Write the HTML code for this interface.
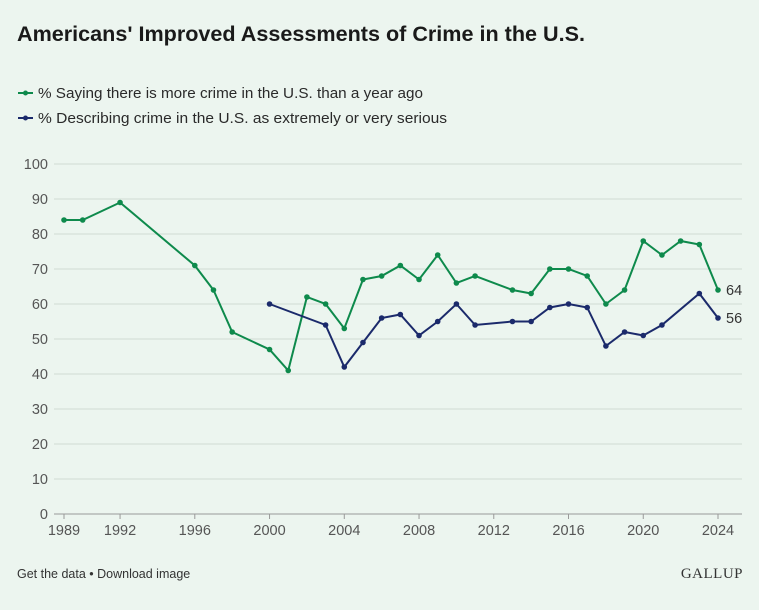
<!DOCTYPE html>
<html><head><meta charset="utf-8"><style>
html,body{margin:0;padding:0;}
body{width:759px;height:605px;background:#ecf5ef;font-family:"Liberation Sans",sans-serif;position:relative;overflow:hidden;}
</style></head><body>
<svg width="759" height="605" viewBox="0 0 759 605" id="chart">
<text x="17" y="41" font-size="21" font-weight="bold" fill="#1a1a1a" textLength="568" lengthAdjust="spacingAndGlyphs">Americans' Improved Assessments of Crime in the U.S.</text>
<g>
<line x1="18" y1="93" x2="33" y2="93" stroke="#0e8a4c" stroke-width="2"/><circle cx="25.5" cy="93" r="2.5" fill="#0e8a4c"/>
<text x="38" y="98" font-size="15" fill="#2a2a2a" textLength="385" lengthAdjust="spacingAndGlyphs">% Saying there is more crime in the U.S. than a year ago</text>
<line x1="18" y1="118" x2="33" y2="118" stroke="#1b2a6b" stroke-width="2"/><circle cx="25.5" cy="118" r="2.5" fill="#1b2a6b"/>
<text x="38" y="123" font-size="15" fill="#2a2a2a" textLength="409" lengthAdjust="spacingAndGlyphs">% Describing crime in the U.S. as extremely or very serious</text>
</g>
<g id="grid"></g><g id="series"></g>
<text x="17" y="578" font-size="12.5" fill="#333">Get the data • Download image</text>
<text x="743" y="578" font-size="15" font-family="Liberation Serif,serif" fill="#333" text-anchor="end" letter-spacing="0.5">GALLUP</text>
</svg>
<script>
const yTicks=[0,10,20,30,40,50,60,70,80,90,100];
const xTicks=[1989,1992,1996,2000,2004,2008,2012,2016,2020,2024];
const greenYears=[1989,1990,1992,1996,1997,1998,2000,2001,2002,2003,2004,2005,2006,2007,2008,2009,2010,2011,2013,2014,2015,2016,2017,2018,2019,2020,2021,2022,2023,2024];
const greenValues=[84,84,89,71,64,52,47,41,62,60,53,67,68,71,67,74,66,68,64,63,70,70,68,60,64,78,74,78,77,64];
const navyYears=[2000,2003,2004,2005,2006,2007,2008,2009,2010,2011,2013,2014,2015,2016,2017,2018,2019,2020,2021,2023,2024];
const navyValues=[60,54,42,49,56,57,51,55,60,54,55,55,59,60,59,48,52,51,54,63,56];
const NS="http://www.w3.org/2000/svg";
const x=yr=>64+(yr-1989)*(654/35);
const y=v=>514-v*3.5;
function mk(tag,attrs,parent){const e=document.createElementNS(NS,tag);for(const k in attrs)e.setAttribute(k,attrs[k]);parent.appendChild(e);return e;}
const grid=document.getElementById('grid'),ser=document.getElementById('series');
yTicks.forEach(t=>{
 const l=mk('line',{x1:54,x2:742,y1:y(t),y2:y(t),stroke:t===0?'#999':'#cfdcd3','stroke-width':1},grid);
 
 
 const tx=mk('text',{x:48,y:y(t)+5,'font-size':14.5,fill:'#555','text-anchor':'end'},grid);tx.textContent=t;
 
 
});
xTicks.forEach(t=>{
 const tk=mk('line',{x1:x(t),x2:x(t),y1:514,y2:519,stroke:'#999'},grid);
 
 
 const tx=mk('text',{x:x(t),y:535,'font-size':14.5,fill:'#555','text-anchor':'middle'},grid);tx.textContent=t;
 
 
});
function draw(years,vals,color,name){
 const p=mk('polyline',{points:years.map((yr,i)=>x(yr)+','+y(vals[i])).join(' '),fill:'none',stroke:color,'stroke-width':2},ser);
 
 
 years.forEach((yr,i)=>{
  const c=mk('circle',{cx:x(yr),cy:y(vals[i]),r:2.8,fill:color},ser);
  
  
 });
 const n=years.length-1;
 const lb=mk('text',{x:x(years[n])+8,y:y(vals[n])+5,'font-size':14.5,fill:'#333'},ser);lb.textContent=vals[n];
 
 
}
draw(greenYears,greenValues,'#0e8a4c','more-crime');
draw(navyYears,navyValues,'#1b2a6b','serious-crime');
</script>
</body></html>
